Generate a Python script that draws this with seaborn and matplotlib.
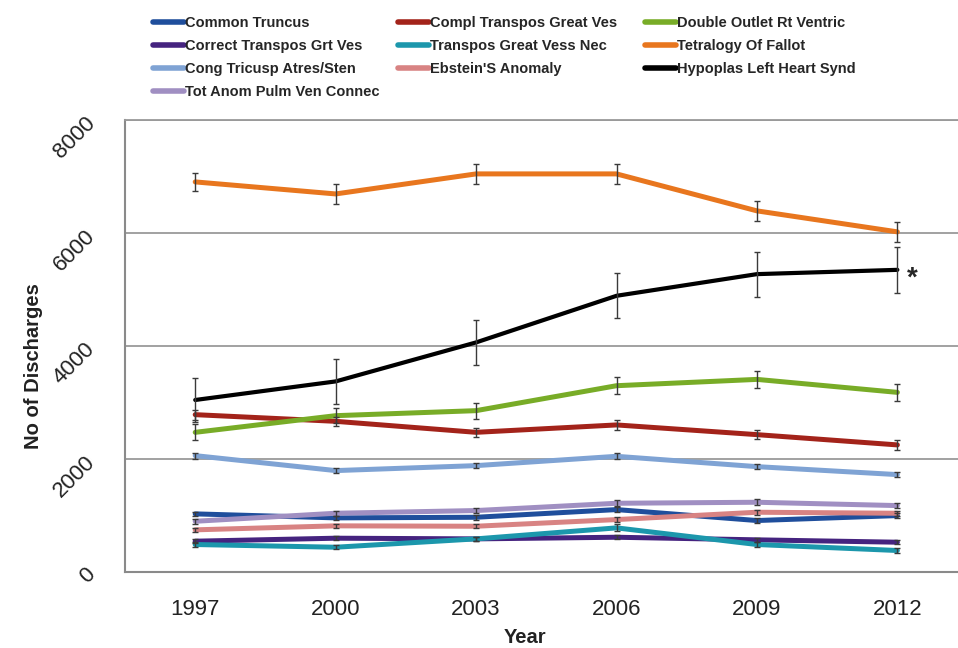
import matplotlib
matplotlib.use("Agg")
import matplotlib.pyplot as plt
import seaborn as sns
import pandas as pd
from matplotlib.lines import Line2D

# ---------------- data ----------------
years = [1997, 2000, 2003, 2006, 2009, 2012]

common_truncus = [1021, 950, 961, 1097, 903, 991]
correct_transpos = [537, 590, 578, 607, 561, 519]
cong_tricusp = [2053, 1788, 1876, 2041, 1858, 1717]
tot_anom = [890, 1032, 1080, 1209, 1227, 1168]
compl_transpos = [2779, 2661, 2466, 2597, 2425, 2243]
transpos_nec = [478, 430, 578, 773, 478, 372]
ebstein = [738, 809, 802, 920, 1050, 1032]
double_outlet = [2466, 2761, 2850, 3292, 3404, 3174]
tetralogy = [6903, 6690, 7045, 7045, 6390, 6018]
hypoplas = [3039, 3368, 4059, 4885, 5269, 5345]

err_common_truncus = [40, 40, 40, 45, 40, 40]
err_correct_transpos = [35, 35, 35, 35, 35, 35]
err_cong_tricusp = [55, 50, 50, 55, 50, 50]
err_tot_anom = [45, 45, 45, 50, 50, 50]
err_compl_transpos = [90, 85, 85, 85, 85, 85]
err_transpos_nec = [40, 40, 40, 60, 40, 40]
err_ebstein = [40, 40, 40, 45, 45, 45]
err_double_outlet = [140, 130, 140, 147, 150, 153]
err_tetralogy = [160, 177, 175, 177, 175, 175]
err_hypoplas = [390, 400, 400, 400, 400, 407]

names = ["Common Truncus", "Correct Transpos Grt Ves", "Cong Tricusp Atres/Sten",
         "Tot Anom Pulm Ven Connec", "Compl Transpos Great Ves", "Transpos Great Vess Nec",
         "Ebstein'S Anomaly", "Double Outlet Rt Ventric", "Tetralogy Of Fallot",
         "Hypoplas Left Heart Synd"]
values = [common_truncus, correct_transpos, cong_tricusp, tot_anom, compl_transpos,
          transpos_nec, ebstein, double_outlet, tetralogy, hypoplas]
errors = [err_common_truncus, err_correct_transpos, err_cong_tricusp, err_tot_anom,
          err_compl_transpos, err_transpos_nec, err_ebstein, err_double_outlet,
          err_tetralogy, err_hypoplas]
colors = ["#1F4E9C", "#45237F", "#7FA3D4", "#A08FC2", "#A3231A", "#1C97AC",
          "#D88383", "#78AC27", "#E8761E", "#000000"]

# ---------------- figure ----------------
sns.set_theme(style="white")
plt.rcParams['font.family'] = ['Liberation Sans', 'DejaVu Sans']

fig = plt.figure(figsize=(9.58, 6.48), dpi=100)
ax = fig.add_axes([125 / 958, (648 - 571.5) / 648, 1 - 125 / 958 + 0.01, (571.5 - 120) / 648])

rows = []
for n, v in zip(names, values):
    for y, val in zip(years, v):
        rows.append({"Year": y, "Discharges": val, "Condition": n})
df = pd.DataFrame(rows)
palette = dict(zip(names, colors))

sns.lineplot(data=df, x="Year", y="Discharges", hue="Condition", hue_order=names,
             palette=palette, linewidth=3.6, legend=False, ax=ax)
for line, n in zip(ax.get_lines(), names):
    if n == "Hypoplas Left Heart Synd":
        line.set_linewidth(3.0)

for n, v, e in zip(names, values, errors):
    ax.errorbar(years, v, yerr=e, fmt='none', ecolor='#3a3a3a', elinewidth=1.0,
                capsize=2.5, capthick=1.0, zorder=3)

ax.text(2012.2, hypoplas[-1] - 150, "*", fontsize=20, fontweight='bold',
        ha='left', va='center')

ax.set_xlim(1995.5, 2013.5)
ax.set_ylim(0, 8000)
ax.set_xticks(years)
ax.set_xticklabels([str(y) for y in years], fontsize=16, color='#222222')
ax.set_yticks([0, 2000, 4000, 6000, 8000])
ax.set_yticklabels(["0", "2000", "4000", "6000", "8000"], fontsize=16, color='#222222',
                   rotation=45, ha='right', va='center', rotation_mode='anchor')
ax.tick_params(axis='y', length=0, pad=24)
ax.tick_params(axis='x', length=0, pad=20)
ax.yaxis.grid(True, color='#9a9a9a', linewidth=1.3)
ax.xaxis.grid(False)
ax.spines['right'].set_visible(False)
ax.spines['top'].set_color('#9a9a9a')
ax.spines['top'].set_linewidth(1.3)
ax.spines['left'].set_color('#8a8a8a')
ax.spines['left'].set_linewidth(1.5)
ax.spines['bottom'].set_color('#8a8a8a')
ax.spines['bottom'].set_linewidth(1.5)

ax.set_xlabel("Year", fontsize=14.5, fontweight='bold', color='#222222')
ax.set_ylabel("No of Discharges", fontsize=14.5, fontweight='bold', color='#222222')
ax.yaxis.set_label_coords(-0.097, 0.455)
ax.xaxis.set_label_coords(0.475, -0.125)

# legend: three columns, row-major reading order
col_x = [153, 398, 645]
groups = [[0, 1, 2, 3], [4, 5, 6], [7, 8, 9]]
for cx, g in zip(col_x, groups):
    handles = [Line2D([0], [0], color=colors[i], lw=4) for i in g]
    labels = [names[i] for i in g]
    fig.legend(handles, labels, loc='upper left',
               bbox_to_anchor=(cx / 958, 1 - 16 / 648), frameon=False,
               prop={'size': 10.5, 'weight': 'bold'}, handlelength=2.1,
               handletextpad=0.1, labelspacing=0.62, borderpad=0, borderaxespad=0)

fig.savefig("out.png", dpi=100, facecolor='white')
